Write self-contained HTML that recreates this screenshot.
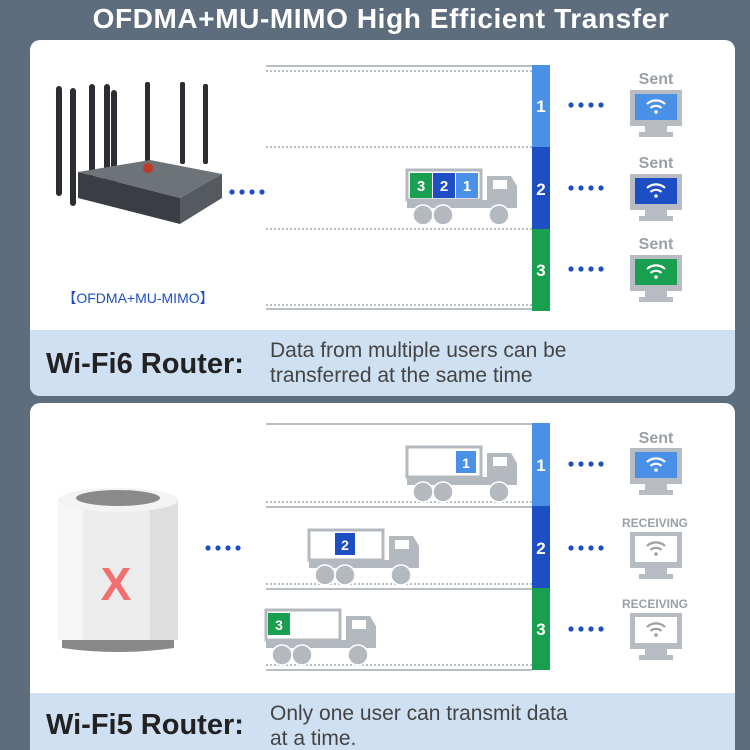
<!DOCTYPE html>
<html><head><meta charset="utf-8"><style>
html,body{margin:0;padding:0;background:#5d6d7e;}
svg{display:block;}
text{font-family:"Liberation Sans",sans-serif;}
</style></head><body>
<svg width="750" height="750" viewBox="0 0 750 750" xmlns="http://www.w3.org/2000/svg">
<defs>
<g id="truck">
  <rect x="0" y="0" width="74" height="30" fill="#fff" stroke="#b4b9bf" stroke-width="3"/>
  <rect x="0" y="30" width="110" height="8" fill="#b4b9bf"/>
  <path d="M80 6 h24 l6 10 v22 h-30 z" fill="#b4b9bf"/>
  <rect x="86" y="10" width="14" height="9" fill="#fff"/>
  <circle cx="16" cy="45" r="10" fill="#b4b9bf" stroke="#fff" stroke-width="1.5"/>
  <circle cx="36" cy="45" r="10" fill="#b4b9bf" stroke="#fff" stroke-width="1.5"/>
  <circle cx="92" cy="45" r="10" fill="#b4b9bf" stroke="#fff" stroke-width="1.5"/>
</g>
<g id="mon">
  <rect x="0" y="0" width="52" height="36" fill="#b7bcc2"/>
  <rect x="15" y="36" width="22" height="7" fill="#b7bcc2"/>
  <rect x="9" y="42" width="34" height="5" fill="#b7bcc2"/>
</g>
<g id="wifi">
  <path d="M-9 -3 a13 13 0 0 1 18 0" fill="none" stroke-width="2.2"/>
  <path d="M-5.5 1 a8 8 0 0 1 11 0" fill="none" stroke-width="2.2"/>
  <circle cx="0" cy="5" r="1.8" stroke="none"/>
</g>
<g id="dots4"><circle cx="0" cy="0" r="2.6"/><circle cx="10" cy="0" r="2.6"/><circle cx="20" cy="0" r="2.6"/><circle cx="30" cy="0" r="2.6"/></g>
</defs>

<text x="381" y="28" text-anchor="middle" font-size="28" font-weight="bold" fill="#fff" letter-spacing="0.6">OFDMA+MU-MIMO High Efficient Transfer</text>

<!-- Panel 1 -->
<rect x="30" y="40" width="705" height="356" rx="10" fill="#fff"/>
<path d="M30 330 H735 V386 a10 10 0 0 1 -10 10 H40 a10 10 0 0 1 -10 -10 Z" fill="#cfe0f2"/>
<g stroke="#b8bec4" stroke-width="2">
<line x1="266" y1="66" x2="532" y2="66"/><line x1="266" y1="309" x2="532" y2="309"/>
</g>
<g stroke="#b8bec4" stroke-width="2" stroke-dasharray="2 2">
<line x1="266" y1="71" x2="532" y2="71"/><line x1="266" y1="147" x2="532" y2="147"/><line x1="266" y1="229" x2="532" y2="229"/><line x1="266" y1="305" x2="532" y2="305"/>
</g>
<rect x="532" y="65" width="18" height="82" fill="#4a90e6"/>
<rect x="532" y="147" width="18" height="82" fill="#1d4ec4"/>
<rect x="532" y="229" width="18" height="82" fill="#18a050"/>
<g fill="#fff" font-size="17" font-weight="bold" text-anchor="middle">
<text x="541" y="112">1</text><text x="541" y="195">2</text><text x="541" y="276">3</text></g>
<g fill="#1d4ec4"><use href="#dots4" x="571" y="105"/><use href="#dots4" x="571" y="188"/><use href="#dots4" x="571" y="269"/><use href="#dots4" x="232" y="192"/></g>
<g fill="#9aa0a6" font-size="16" font-weight="bold" text-anchor="middle">
<text x="656" y="84">Sent</text><text x="656" y="168">Sent</text><text x="656" y="249">Sent</text></g>
<use href="#mon" x="630" y="90"/><rect x="635" y="94" width="42" height="26" fill="#4a90e6"/>
<use href="#mon" x="630" y="174"/><rect x="635" y="178" width="42" height="26" fill="#1d4ec4"/>
<use href="#mon" x="630" y="255"/><rect x="635" y="259" width="42" height="26" fill="#18a050"/>
<g fill="#fff" stroke="#fff"><use href="#wifi" x="656" y="107"/><use href="#wifi" x="656" y="191"/><use href="#wifi" x="656" y="272"/></g>
<use href="#truck" x="407" y="170"/>
<rect x="410" y="173" width="22" height="25" fill="#18a050"/><rect x="433" y="173" width="22" height="25" fill="#1d4ec4"/><rect x="456" y="173" width="22" height="25" fill="#4a90e6"/>
<g fill="#fff" font-size="15" font-weight="bold" text-anchor="middle"><text x="421" y="191">3</text><text x="444" y="191">2</text><text x="467" y="191">1</text></g>
<!-- router -->
<g fill="#2a2d31">
<rect x="56" y="86" width="6" height="110" rx="3"/><rect x="70" y="88" width="6" height="118" rx="3"/><rect x="89" y="84" width="6" height="100" rx="3"/><rect x="104" y="84" width="6" height="100" rx="3"/><rect x="111" y="90" width="6" height="116" rx="3"/><rect x="145" y="82" width="5" height="80" rx="2"/><rect x="180" y="82" width="5" height="82" rx="2"/><rect x="203" y="84" width="5" height="80" rx="2"/>
</g>
<path d="M78 172 L150 160 L222 174 L180 198 Z" fill="#6e7378"/>
<path d="M78 172 L180 198 L180 224 L78 198 Z" fill="#3a3e43"/>
<path d="M180 198 L222 174 L222 198 L180 224 Z" fill="#555a60"/>
<circle cx="148" cy="168" r="5" fill="#c0392b"/>
<text x="138" y="303" text-anchor="middle" font-size="14" fill="#1d4ec4">【OFDMA+MU-MIMO】</text>
<text x="46" y="373" font-size="29" font-weight="bold" fill="#222">Wi-Fi6 Router:</text>
<g font-size="21" fill="#444"><text x="270" y="357">Data from multiple users can be</text><text x="270" y="382">transferred at the same time</text></g>

<!-- Panel 2 -->
<rect x="30" y="403" width="705" height="360" rx="10" fill="#fff"/>
<rect x="30" y="693" width="705" height="57" fill="#cfe0f2"/>
<g stroke="#b8bec4" stroke-width="2">
<line x1="266" y1="424" x2="532" y2="424"/><line x1="266" y1="507" x2="532" y2="507"/><line x1="266" y1="589" x2="532" y2="589"/><line x1="266" y1="670" x2="532" y2="670"/>
</g>
<g stroke="#b8bec4" stroke-width="2" stroke-dasharray="2 2">
<line x1="266" y1="502" x2="532" y2="502"/><line x1="266" y1="584" x2="532" y2="584"/><line x1="266" y1="665" x2="532" y2="665"/>
</g>
<rect x="532" y="423" width="18" height="83" fill="#4a90e6"/>
<rect x="532" y="506" width="18" height="82" fill="#1d4ec4"/>
<rect x="532" y="588" width="18" height="82" fill="#18a050"/>
<g fill="#fff" font-size="17" font-weight="bold" text-anchor="middle">
<text x="541" y="471">1</text><text x="541" y="554">2</text><text x="541" y="635">3</text></g>
<g fill="#1d4ec4"><use href="#dots4" x="571" y="464"/><use href="#dots4" x="571" y="548"/><use href="#dots4" x="571" y="629"/><use href="#dots4" x="208" y="548"/></g>
<text x="656" y="443" fill="#9aa0a6" font-size="16" font-weight="bold" text-anchor="middle">Sent</text>
<g fill="#9aa0a6" font-size="12" font-weight="bold" text-anchor="middle"><text x="655" y="527">RECEIVING</text><text x="655" y="608">RECEIVING</text></g>
<use href="#mon" x="630" y="448"/><rect x="635" y="452" width="42" height="26" fill="#4a90e6"/>
<use href="#mon" x="630" y="532"/><rect x="635" y="536" width="42" height="26" fill="#fff"/>
<use href="#mon" x="630" y="613"/><rect x="635" y="617" width="42" height="26" fill="#fff"/>
<g fill="#fff" stroke="#fff"><use href="#wifi" x="656" y="465"/></g>
<g fill="#9aa0a6" stroke="#9aa0a6"><use href="#wifi" x="656" y="549"/><use href="#wifi" x="656" y="630"/></g>
<use href="#truck" x="407" y="447"/>
<rect x="456" y="451" width="20" height="22" fill="#4a90e6"/><text x="466" y="468" fill="#fff" font-size="14" font-weight="bold" text-anchor="middle">1</text>
<use href="#truck" x="309" y="530"/>
<rect x="335" y="533" width="20" height="22" fill="#1d4ec4"/><text x="345" y="550" fill="#fff" font-size="14" font-weight="bold" text-anchor="middle">2</text>
<use href="#truck" x="266" y="610"/>
<rect x="268" y="613" width="22" height="22" fill="#18a050"/><text x="279" y="630" fill="#fff" font-size="14" font-weight="bold" text-anchor="middle">3</text>
<!-- cylinder router -->
<rect x="58" y="500" width="120" height="140" fill="#ececec"/>
<rect x="58" y="500" width="25" height="140" fill="#f6f6f6"/>
<rect x="150" y="500" width="28" height="140" fill="#dedede"/>
<ellipse cx="118" cy="500" rx="60" ry="12" fill="#f3f3f3"/>
<ellipse cx="118" cy="498" rx="42" ry="8" fill="#8a8a8a"/>
<path d="M62 640 h112 v8 q-56 8 -112 0 z" fill="#888"/>
<text x="116" y="600" text-anchor="middle" font-size="46" font-weight="bold" fill="#f07070">X</text>
<text x="46" y="734" font-size="29" font-weight="bold" fill="#222">Wi-Fi5 Router:</text>
<g font-size="21" fill="#444"><text x="270" y="720">Only one user can transmit data</text><text x="270" y="745">at a time.</text></g>
</svg>
</body></html>
